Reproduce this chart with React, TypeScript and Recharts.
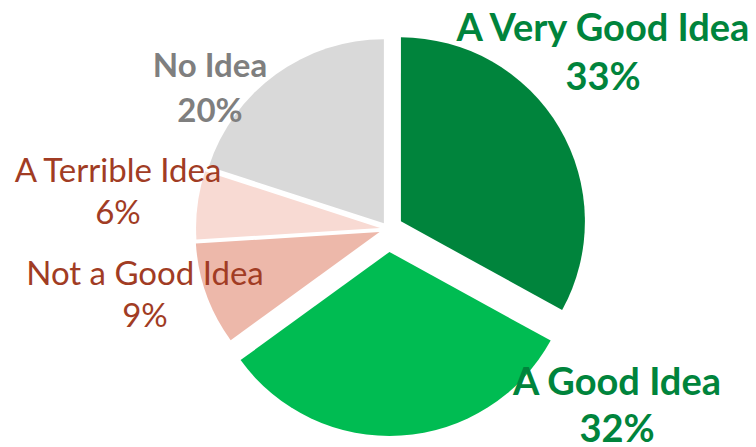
import * as React from "react"
import { PieChart, Pie, Cell } from "recharts"

const categories = ["A Very Good Idea", "A Good Idea", "Not a Good Idea", "A Terrible Idea", "No Idea"]
const shares = [33, 32, 9, 6, 20]

const sliceColors = ["#00843C", "#00BC52", "#EDB8AA", "#F8DAD3", "#D9D9D9"]
const textColors = ["#00843C", "#00843C", "#A13C24", "#A13C24", "#7F7F7F"]
const textBold = [true, true, false, false, true]
const textSize = [38, 38, 33, 33, 33]
// how far each slice is pulled out of the pie, px
const explode = [15, 23, 9, 8, 7]
// label centre (x) and the two baselines, px
const labelPos = [
  { x: 603, y1: 41, y2: 90 },
  { x: 617, y1: 395, y2: 442 },
  { x: 145, y1: 285, y2: 327 },
  { x: 118, y1: 182, y2: 224 },
  { x: 210, y1: 77, y2: 122 },
]

const WIDTH = 756
const HEIGHT = 447
const CX = 388
const CY = 229
const RADIUS = 184

const data = categories.map((name, i) => ({ name, value: shares[i] }))
const total = shares.reduce((a, b) => a + b, 0)

// mid angle of each slice (recharts convention: degrees ccw from 3 o'clock, start at 12)
const midAngles = shares.map((v, i) => {
  const before = shares.slice(0, i).reduce((a, b) => a + b, 0)
  return 90 - ((before + v / 2) / total) * 360
})

export default function App() {
  return (
    <div style={{ position: "absolute", left: 0, top: 0, background: "#fff" }}>
      <PieChart width={WIDTH} height={HEIGHT} margin={{ top: 0, right: 0, bottom: 0, left: 0 }}>
        {data.map((_, k) => {
          const rad = (midAngles[k] * Math.PI) / 180
          const dx = explode[k] * Math.cos(rad)
          const dy = -explode[k] * Math.sin(rad)
          return (
            <Pie
              key={`pie-${k}`}
              data={data}
              dataKey="value"
              nameKey="name"
              cx={CX + dx}
              cy={CY + dy}
              outerRadius={RADIUS}
              startAngle={90}
              endAngle={-270}
              stroke="none"
              labelLine={false}
              isAnimationActive={false}
              label={(props: any) => {
                if (props.index !== k) return null
                const p = labelPos[k]
                const style = {
                  fontFamily: "Lato, sans-serif",
                  fontSize: textSize[k],
                  fontWeight: textBold[k] ? 700 : 400,
                  fill: textColors[k],
                }
                return (
                  <g>
                    <text x={p.x} y={p.y1} textAnchor="middle" style={style}>
                      {categories[k]}
                    </text>
                    <text x={p.x} y={p.y2} textAnchor="middle" style={style}>
                      {`${shares[k]}%`}
                    </text>
                  </g>
                )
              }}
            >
              {data.map((entry, i) => (
                <Cell key={`cell-${i}`} fill={i === k ? sliceColors[i] : "none"} />
              ))}
            </Pie>
          )
        })}
      </PieChart>
    </div>
  )
}
